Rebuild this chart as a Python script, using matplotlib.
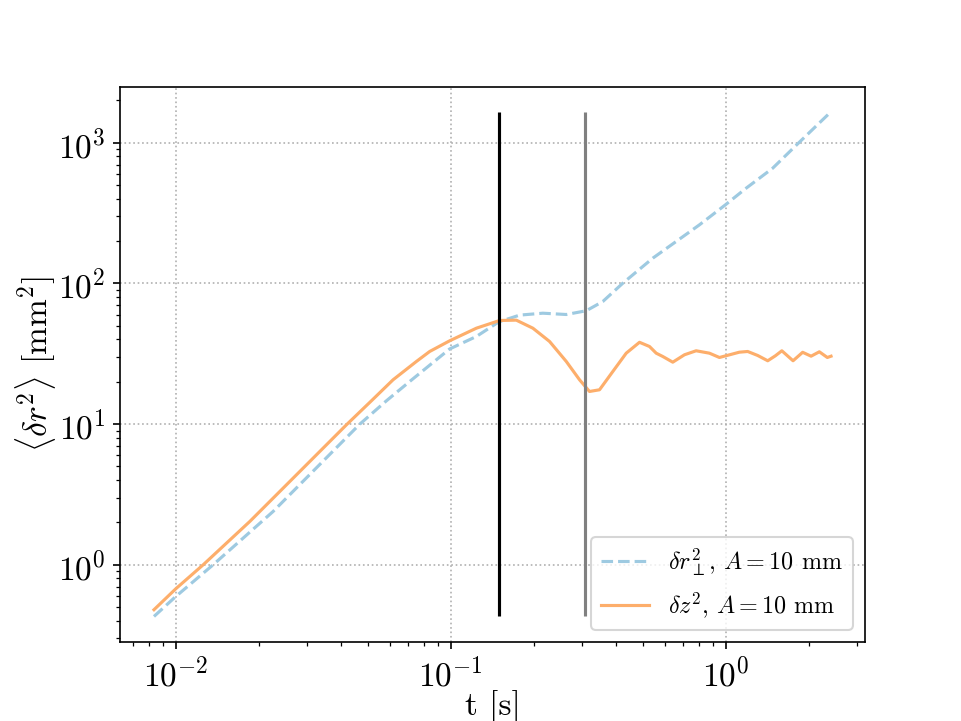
import matplotlib
matplotlib.use('Agg')
import matplotlib.pyplot as plt
import numpy as np

plt.rcParams['font.family'] = 'serif'
plt.rcParams['font.serif'] = ['cmr10']
plt.rcParams['mathtext.fontset'] = 'cm'
plt.rcParams['axes.formatter.use_mathtext'] = True
plt.rcParams['axes.unicode_minus'] = False

# times [s] and mean square displacements [mm^2]
t_perp = [0.00833, 0.0100, 0.01367, 0.02258, 0.04664, 0.05831, 0.07085, 0.0990,
          0.1238, 0.1495, 0.1778, 0.2160, 0.2628, 0.3106, 0.3568, 0.4218,
          0.5421, 0.6593, 0.8014, 0.9958, 1.184, 1.479, 1.849, 2.312, 2.41]
msd_perp = [0.429, 0.595, 1.0, 2.392, 9.98, 14.64, 20.08, 34.2,
            41.94, 53.3, 59.5, 61.4, 60.1, 63.9, 74.35, 100.3,
            151.1, 198.6, 260.9, 361.9, 474.9, 658.8, 1008, 1536, 1660]

t_z = [0.00833, 0.0100, 0.01258, 0.01858, 0.02747, 0.04173, 0.05143, 0.06163,
       0.07493, 0.08375, 0.0990, 0.1238, 0.1504, 0.1729, 0.1987, 0.2285,
       0.2628, 0.2937, 0.3192, 0.3471, 0.3880, 0.4340, 0.4851, 0.5275,
       0.5578, 0.5894, 0.6409, 0.7068, 0.7792, 0.871, 0.9471, 1.119,
       1.200, 1.305, 1.419, 1.513, 1.597, 1.754, 1.901, 2.040,
       2.186, 2.337, 2.411]
msd_z = [0.479, 0.675, 1.0, 2.031, 4.362, 9.886, 14.64, 20.64,
         27.86, 32.81, 39.08, 48.04, 54.49, 54.8, 48.04, 38.64,
         27.86, 20.64, 17.05, 17.53, 23.65, 31.91, 38.14, 35.60,
         31.91, 30.23, 27.54, 31.09, 33.19, 31.91, 29.74, 32.43,
         32.81, 30.73, 28.18, 30.58, 33.19, 28.18, 32.38, 30.38,
         32.65, 29.74, 30.38]

t_marks = [0.1495, 0.308]
mark_colors = ['k', 'gray']

fig, ax = plt.subplots(figsize=(961 / 150, 721 / 150), dpi=150)

ax.loglog(t_perp, msd_perp, '--', color='#9ecae1',
          label=r'$\delta r_{\perp}^2$, $A=10$ mm')
ax.loglog(t_z, msd_z, '-', color='#fdae6b',
          label=r'$\delta z^2$, $A=10$ mm')

# vertical markers spanning the data range
for tm, c in zip(t_marks, mark_colors):
    ax.vlines(tm, min(msd_perp), max(msd_perp), color=c, lw=1.5)

ax.grid(linestyle=':')
ax.tick_params(labelsize=16)
ax.set_xlabel('t [s]', fontsize=16, labelpad=-1)
ax.set_ylabel(r'$\langle\delta r^2\rangle$ [mm$^2$]', fontsize=16, labelpad=0)
ax.legend(loc='lower right', fontsize=11.6)

fig.savefig('out.png', dpi=150)
